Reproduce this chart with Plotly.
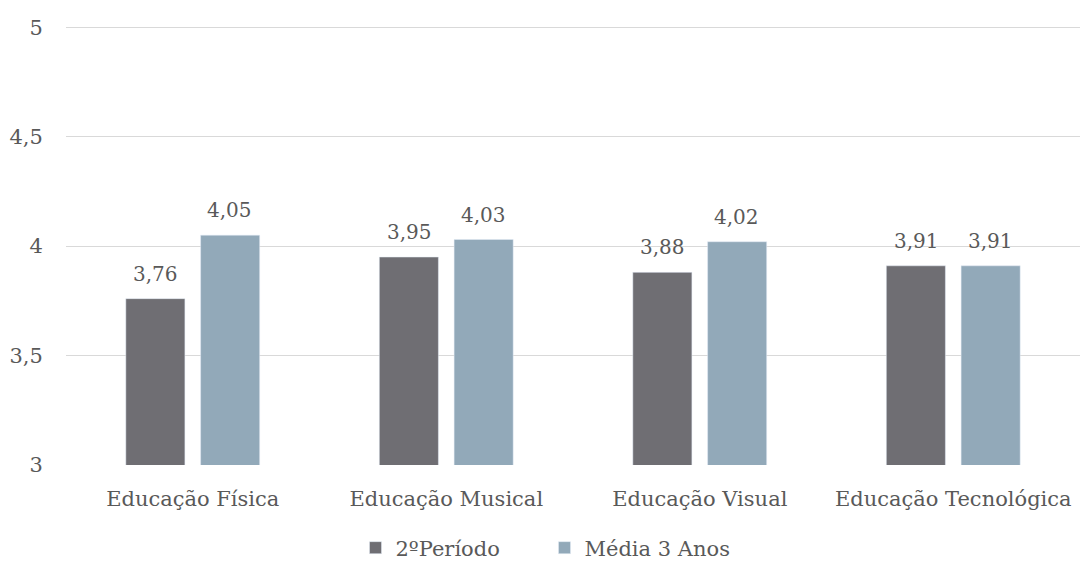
import plotly.graph_objects as go

categorias = ["Educação Física", "Educação Musical", "Educação Visual", "Educação Tecnológica"]
periodo2 = [3.76, 3.95, 3.88, 3.91]
media3anos = [4.05, 4.03, 4.02, 3.91]

fonte = "DejaVu Serif"
cor_texto = "#595959"
tam_rotulo = 20
tam_eixo = 21

def rotulo(v):
    return f"{v:.2f}".replace(".", ",")

fig = go.Figure()
fig.add_trace(go.Bar(x=categorias, y=periodo2, name="2ºPeríodo",
                     marker=dict(color="#6f6e73")))
fig.add_trace(go.Bar(x=categorias, y=media3anos, name="Média 3 Anos",
                     marker=dict(color="#92a9b9")))

# value labels above each bar
for serie, desloc in ((periodo2, -37), (media3anos, 37)):
    for cat, v in zip(categorias, serie):
        fig.add_annotation(x=cat, y=v, text=rotulo(v), showarrow=False,
                           xshift=desloc, yshift=25, yanchor="middle",
                           font=dict(family=fonte, size=tam_rotulo, color=cor_texto))

fig.update_layout(
    width=1089, height=563,
    margin=dict(l=66, r=9, t=25, b=98, autoexpand=False),
    paper_bgcolor="white", plot_bgcolor="white",
    barmode="group", bargap=0.41, bargroupgap=0.21,
    font=dict(family=fonte, size=tam_eixo, color=cor_texto),
    showlegend=True,
    legend=dict(orientation="h", x=0.5, xanchor="center", xref="container",
                y=(563 - 548) / 563, yanchor="middle", yref="container",
                font=dict(family=fonte, size=tam_eixo, color=cor_texto),
                itemwidth=30, entrywidth=144, traceorder="normal"),
    xaxis=dict(showgrid=False, showline=False, ticks="outside", ticklen=15,
               tickcolor="rgba(0,0,0,0)", tickfont=dict(size=tam_eixo)),
    yaxis=dict(range=[3, 5.01], tickvals=[3, 3.5, 4, 4.5, 5],
               ticktext=["3", "3,5", "4", "4,5", "5"],
               showgrid=True, gridcolor="#d9d9d9", gridwidth=1,
               zeroline=False, showline=False, ticks="outside", ticklen=18,
               tickcolor="rgba(0,0,0,0)", tickfont=dict(size=tam_eixo)),
)

fig.write_html("out.html")
